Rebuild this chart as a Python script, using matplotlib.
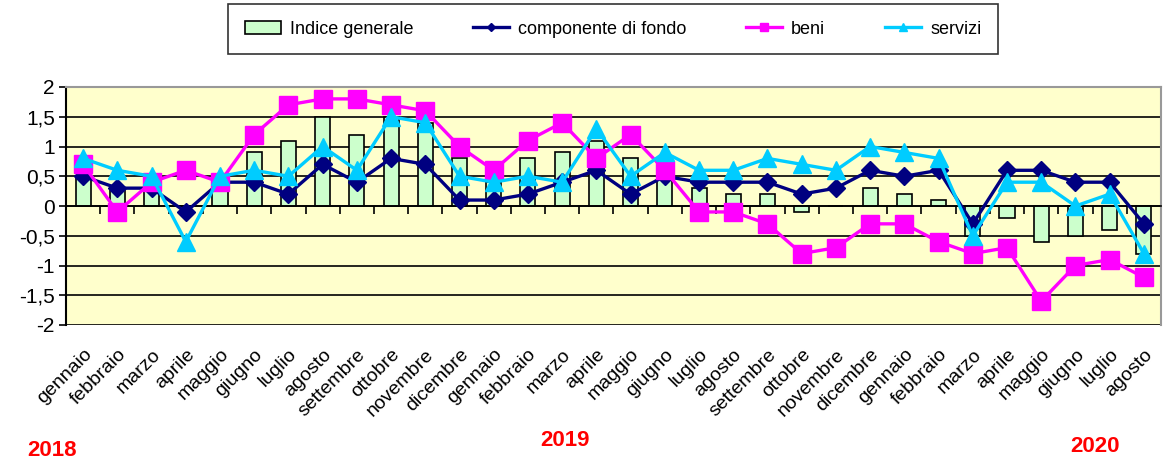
import matplotlib
matplotlib.use("Agg")
import matplotlib.pyplot as plt
import numpy as np

plt.rcParams['font.family'] = ['Liberation Sans', 'DejaVu Sans']

months = ["gennaio", "febbraio", "marzo", "aprile", "maggio", "giugno", "luglio",
          "agosto", "settembre", "ottobre", "novembre", "dicembre",
          "gennaio", "febbraio", "marzo", "aprile", "maggio", "giugno", "luglio",
          "agosto", "settembre", "ottobre", "novembre", "dicembre",
          "gennaio", "febbraio", "marzo", "aprile", "maggio", "giugno", "luglio", "agosto"]

indice_generale = [0.5, 0.3, 0.3, 0.0, 0.4, 0.9, 1.1, 1.5, 1.2, 1.5, 1.4, 0.8,
                   0.4, 0.8, 0.9, 1.1, 0.8, 0.5, 0.3, 0.2, 0.2, -0.1, 0.0, 0.3,
                   0.2, 0.1, -0.5, -0.2, -0.6, -0.5, -0.4, -0.8]
componente_di_fondo = [0.5, 0.3, 0.3, -0.1, 0.4, 0.4, 0.2, 0.7, 0.4, 0.8, 0.7, 0.1,
                       0.1, 0.2, 0.4, 0.6, 0.2, 0.5, 0.4, 0.4, 0.4, 0.2, 0.3, 0.6,
                       0.5, 0.6, -0.3, 0.6, 0.6, 0.4, 0.4, -0.3]
beni = [0.7, -0.1, 0.4, 0.6, 0.4, 1.2, 1.7, 1.8, 1.8, 1.7, 1.6, 1.0,
        0.6, 1.1, 1.4, 0.8, 1.2, 0.6, -0.1, -0.1, -0.3, -0.8, -0.7, -0.3,
        -0.3, -0.6, -0.8, -0.7, -1.6, -1.0, -0.9, -1.2]
servizi = [0.8, 0.6, 0.5, -0.6, 0.5, 0.6, 0.5, 1.0, 0.6, 1.5, 1.4, 0.5,
           0.4, 0.5, 0.4, 1.3, 0.5, 0.9, 0.6, 0.6, 0.8, 0.7, 0.6, 1.0,
           0.9, 0.8, -0.5, 0.4, 0.4, 0.0, 0.2, -0.8]
years = ["2018", "2019", "2020"]
yticks = [2, 1.5, 1, 0.5, 0, -0.5, -1, -1.5, -2]

W, H = 1163, 462
fig = plt.figure(figsize=(W / 100, H / 100), dpi=100)
ax = fig.add_axes([66 / W, 1 - 325 / H, (1161 - 66) / W, (325 - 87) / H])
ax.set_facecolor('#FFFFCC')

x = np.arange(len(months))
bars = ax.bar(x, indice_generale, width=0.44, color='#CCFFCC', edgecolor='black',
              linewidth=1.2, label='Indice generale', zorder=2)
l1, = ax.plot(x, componente_di_fondo, color='#000080', marker='D', markersize=9.5,
              linewidth=2.4, label='componente di fondo', zorder=3)
l2, = ax.plot(x, beni, color='#FF00FF', marker='s', markersize=13,
              linewidth=2.4, label='beni', zorder=4)
l3, = ax.plot(x, servizi, color='#00CCFF', marker='^', markersize=13,
              linewidth=2.4, label='servizi', zorder=5)

ax.set_xlim(-0.5, len(months) - 0.5)
ax.set_ylim(-2, 2)
ax.set_yticks(yticks)
ax.set_yticklabels([f"{v:g}".replace('.', ',') for v in yticks], fontsize=15)
ax.yaxis.grid(True, color='black', linewidth=1.2, zorder=1)
ax.set_axisbelow(True)
ax.tick_params(axis='y', length=5, width=1.2, direction='out', pad=3)

# category axis at zero with tick marks between categories
ax.spines['bottom'].set_position(('data', 0))
ax.spines['bottom'].set_linewidth(1.2)
ax.set_xticks(np.arange(len(months) + 1) - 0.5)
ax.tick_params(axis='x', length=6, width=1.2, direction='out', labelbottom=False)
ax.spines['left'].set_linewidth(1.5)
for s in ['top', 'right']:
    ax.spines[s].set_color('#999999')
    ax.spines[s].set_linewidth(1.5)

sec = ax.secondary_xaxis('bottom')
sec.set_xticks(x)
sec.set_xticklabels(months, rotation=45, ha='right', va='top',
                    rotation_mode='anchor', fontsize=14)
sec.tick_params(length=0, pad=15)
sec.spines['bottom'].set_visible(False)

fig.text(52 / W, 1 - 450 / H, years[0], color='red', fontsize=16,
         fontweight='bold', ha='center', va='center')
fig.text(565 / W, 1 - 440 / H, years[1], color='red', fontsize=16,
         fontweight='bold', ha='center', va='center')
fig.text(1095 / W, 1 - 447 / H, years[2], color='red', fontsize=16,
         fontweight='bold', ha='center', va='center')

handles = [bars, l1, l2, l3]
labels = [h.get_label() for h in handles]
leg = fig.legend(handles, labels, loc='center', ncol=4,
                 bbox_to_anchor=(613 / W, 1 - 29 / H), fontsize=13,
                 frameon=True, fancybox=False, edgecolor='black',
                 handlelength=2.0, handletextpad=0.5, columnspacing=3.3,
                 borderpad=0.9, markerscale=0.45)
leg.get_frame().set_linewidth(1.2)

fig.savefig('out.png', dpi=100, facecolor='white')
